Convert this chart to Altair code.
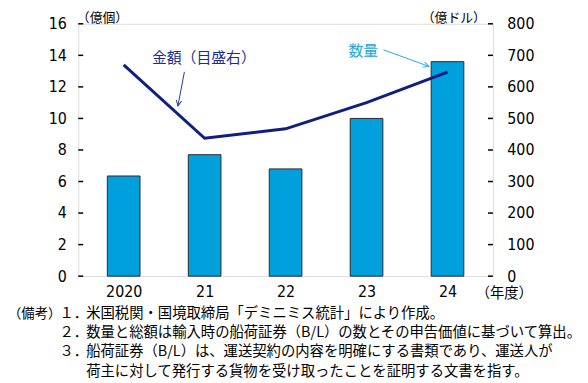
import json
import altair as alt
import pandas as pd

# ---- data ----
years = ["2020", "21", "22", "23", "24"]
quantity = [6.35, 7.7, 6.8, 10.0, 13.6]        # 数量 (億個, left axis)
amount = [670, 437, 467, 550, 647]              # 金額 (億ドル, right axis)
left_ticks = [0, 2, 4, 6, 8, 10, 12, 14, 16]
right_ticks = [0, 100, 200, 300, 400, 500, 600, 700, 800]

notes_head = "（備考）"
notes_nums = ["１．", "２．", "３．", ""]
notes_lines = [
    "米国税関・国境取締局「デミニミス統計」により作成。",
    "数量と総額は輸入時の船荷証券（B/L）の数とその申告価値に基づいて算出。",
    "船荷証券（B/L）は、運送契約の内容を明確にする書類であり、運送人が",
    "荷主に対して発行する貨物を受け取ったことを証明する文書を指す。",
]

# annotation anchors in data units (x index, left-axis value)
ann_text = pd.DataFrame({
    "x": [0.99, 2.96], "y": [13.8, 14.25],
    "t": ["金額（目盛右）", "数量"], "c": ["#1b2d8a", "#21a5e0"],
})
ann_arrow = pd.DataFrame({
    "x1": [0.75, 3.21], "y1": [12.95, 14.35],
    "x2": [0.67, 3.77], "y2": [10.8, 13.3],
    "ang": [11, 290], "c": ["#2b3c8f", "#2aa8e0"],
})

df = pd.DataFrame({"i": list(range(len(years))), "year": years,
                   "qty": quantity, "amt": amount})
ticks_df = pd.DataFrame({"t": left_ticks})

W, H = 419, 255
JP = "Noto Sans CJK JP"
NUM = "Liberation Sans Narrow, DejaVu Sans Condensed, sans-serif"

label_expr = json.dumps(years) + "[datum.value]"
xscale = alt.Scale(domain=[-0.5, len(years) - 0.5], nice=False, zero=False)
xaxis = alt.Axis(values=list(range(len(years))), labelExpr=label_expr,
                 ticks=False, domain=False, grid=False, labelPadding=8,
                 labelFont=NUM, labelFontSize=16, labelColor="black",
                 title="（年度）", titleFont=JP, titleFontSize=14.5,
                 titleFontWeight="normal", titleX=430, titleY=18,
                 titleAlign="center", titleBaseline="middle", titleColor="black")


def X(field):
    return alt.X(field=field, type="quantitative", scale=xscale, axis=xaxis)


lscale = alt.Scale(domain=[0, 16], nice=False)
rscale = alt.Scale(domain=[0, 800], nice=False)

bars = alt.Chart(df).mark_bar(size=33, fill="#00a0dc", stroke="#2a2a2a", strokeWidth=1).encode(
    x=X("i"),
    y=alt.Y("qty:Q", scale=lscale,
            axis=alt.Axis(values=left_ticks, orient="left", ticks=False, domain=False, grid=False,
                          labelPadding=12, labelFont=NUM, labelFontSize=16, labelColor="black",
                          title="（億個）", titleAngle=0, titleFont=JP, titleFontSize=13,
                          titleFontWeight="normal", titleX=24, titleY=-6.5,
                          titleAlign="center", titleBaseline="middle", titleColor="black")),
)

line = alt.Chart(df).mark_line(color="#0f1e82", strokeWidth=3).encode(
    x=X("i"),
    y=alt.Y("amt:Q", scale=rscale,
            axis=alt.Axis(values=right_ticks, orient="right", ticks=False, domain=False, grid=False,
                          labelPadding=14, labelFont=NUM, labelFontSize=16, labelColor="black",
                          title="（億ドル）", titleAngle=0, titleFont=JP, titleFontSize=13,
                          titleFontWeight="normal", titleX=-40, titleY=-6.5,
                          titleAlign="center", titleBaseline="middle", titleColor="black")),
)

tick_l = alt.Chart(ticks_df).mark_rule(color="black", strokeWidth=1.5).encode(
    y=alt.Y("t:Q", scale=lscale, axis=None), x=alt.value(0), x2=alt.value(5))
tick_r = alt.Chart(ticks_df).mark_rule(color="black", strokeWidth=1.5).encode(
    y=alt.Y("t:Q", scale=lscale, axis=None), x=alt.value(W - 5), x2=alt.value(W))

txt = alt.Chart(ann_text).mark_text(font=JP, fontSize=15, align="center", baseline="middle").encode(
    x=X("x"), y=alt.Y("y:Q", scale=lscale, axis=None), text="t:N",
    color=alt.Color("c:N", scale=None))

arrows = alt.Chart(ann_arrow).mark_rule(strokeWidth=1).encode(
    x=X("x1"), y=alt.Y("y1:Q", scale=lscale, axis=None),
    x2="x2:Q", y2="y2:Q", color=alt.Color("c:N", scale=None))

heads = alt.Chart(ann_arrow).mark_point(shape="M-0.5,-1L0,0L0.5,-1", filled=False,
                                        strokeWidth=1, size=120, opacity=1).encode(
    x=X("x2"), y=alt.Y("y2:Q", scale=lscale, axis=None),
    angle=alt.Angle("ang:Q", scale=None), color=alt.Color("c:N", scale=None))

layers = [bars, line, tick_l, tick_r, txt, arrows, heads]

# notes below the plot (positions relative to the plot's top-left corner), one row each
row_y = [293, 312.5, 332, 351.5]
note_style = dict(font=JP, fontSize=14.5, align="left", baseline="middle", color="black")


def note(text, xpos, ypos, size=14.5):
    return alt.Chart(pd.DataFrame({"t": [text]})).mark_text(**{**note_style, "fontSize": size}).encode(
        text="t:N", x=alt.value(xpos), y=alt.value(ypos))


layers.append(note(notes_head, -71, row_y[0], 13.5))
for k, (num, body) in enumerate(zip(notes_nums, notes_lines)):
    if num:
        layers.append(note(num, -19, row_y[k]))
    layers.append(note(body, 8, row_y[k]))

chart = alt.layer(*layers).resolve_scale(y="independent").properties(
    width=W, height=H,
    autosize=alt.AutoSizeParams(type="none"),
    padding={"left": 71, "top": 14, "right": 88, "bottom": 104},
).configure_view(stroke="black", strokeWidth=3).configure(background="white")

chart.save("out.html", embed_options={"renderer": "svg", "actions": False})
